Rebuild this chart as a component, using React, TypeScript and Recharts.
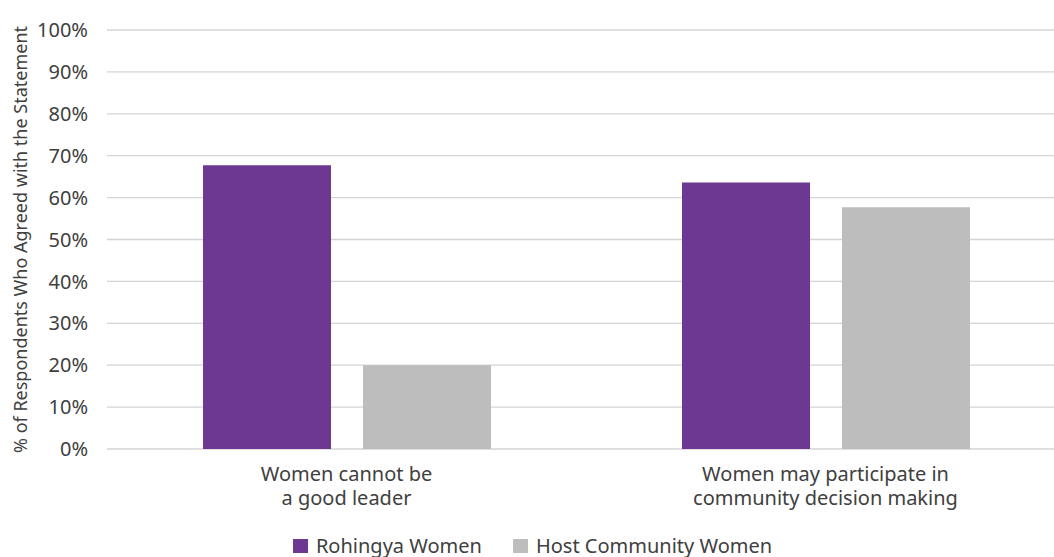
import React from "react";
import {
    Bar,
    BarChart,
    CartesianGrid,
    Legend,
    XAxis,
    YAxis,
} from "recharts";

const FONT = "'Noto Sans', 'Open Sans', sans-serif";
const TEXT_COLOR = "#404040";

// Two statement categories; "\n" marks where the axis label wraps.
const statements = [
    "Women cannot be\na good leader",
    "Women may participate in\ncommunity decision making",
];
const rohingyaWomen = [67.7, 63.6];
const hostCommunityWomen = [20, 57.7];
const yTicks = [0, 10, 20, 30, 40, 50, 60, 70, 80, 90, 100];

const SERIES = [
    { key: "rohingya", name: "Rohingya Women", color: "#6c3891" },
    { key: "host", name: "Host Community Women", color: "#bdbdbd" },
];

const data = statements.map((s, i) => ({
    statement: s,
    rohingya: rohingyaWomen[i],
    host: hostCommunityWomen[i],
}));

function StatementTick({ x, y, payload }: any) {
    const lines = String(payload.value).split("\n");
    return (
        <text
            x={x}
            y={y}
            textAnchor="middle"
            fill={TEXT_COLOR}
            fontSize={20}
            fontFamily={FONT}
        >
            {lines.map((line, i) => (
                <tspan key={i} x={x} dy={i === 0 ? 32 : 24}>
                    {line}
                </tspan>
            ))}
        </text>
    );
}

function YTitle({ viewBox }: any) {
    const cy = viewBox.y + viewBox.height / 2;
    return (
        <text
            x={20}
            y={cy}
            transform={`rotate(-90, 20, ${cy})`}
            textAnchor="middle"
            dominantBaseline="central"
            fill={TEXT_COLOR}
            fontSize={18}
            fontFamily={FONT}
        >
            % of Respondents Who Agreed with the Statement
        </text>
    );
}

function SeriesLegend() {
    return (
        <div
            style={{
                height: 22,
                lineHeight: "22px",
                display: "flex",
                justifyContent: "center",
                alignItems: "center",
                gap: 31,
                fontFamily: FONT,
                fontSize: 20,
                color: TEXT_COLOR,
            }}
        >
            {SERIES.map((s) => (
                <span key={s.key} style={{ display: "flex", alignItems: "center" }}>
                    <span
                        style={{
                            width: 15,
                            height: 14,
                            background: s.color,
                            marginRight: 8,
                            display: "inline-block",
                        }}
                    />
                    {s.name}
                </span>
            ))}
        </div>
    );
}

export default function App() {
    return (
        <div
            style={{
                position: "absolute",
                left: 0,
                top: 0,
                width: 1054,
                height: 557,
                overflow: "hidden",
                background: "#fff",
            }}
        >
            <BarChart
                width={1066}
                height={557}
                data={data}
                margin={{ top: 30, right: 1, left: 0, bottom: 0 }}
                barCategoryGap={96}
                barGap={32}
            >
                <CartesianGrid vertical={false} stroke="#d4d4d4" strokeWidth={1.3} />
                <XAxis
                    dataKey="statement"
                    axisLine={false}
                    tickLine={false}
                    tickSize={0}
                    tickMargin={0}
                    height={86}
                    interval={0}
                    tick={<StatementTick />}
                />
                <YAxis
                    width={107}
                    domain={[0, 100]}
                    ticks={yTicks}
                    tickFormatter={(v) => `${v}%`}
                    axisLine={false}
                    tickLine={false}
                    tickSize={0}
                    tickMargin={19}
                    tick={{ fill: TEXT_COLOR, fontSize: 20, fontFamily: FONT }}
                    label={<YTitle />}
                />
                <Legend verticalAlign="bottom" content={<SeriesLegend />} />
                {SERIES.map((s) => (
                    <Bar
                        key={s.key}
                        dataKey={s.key}
                        name={s.name}
                        fill={s.color}
                        isAnimationActive={false}
                    />
                ))}
            </BarChart>
        </div>
    );
}
